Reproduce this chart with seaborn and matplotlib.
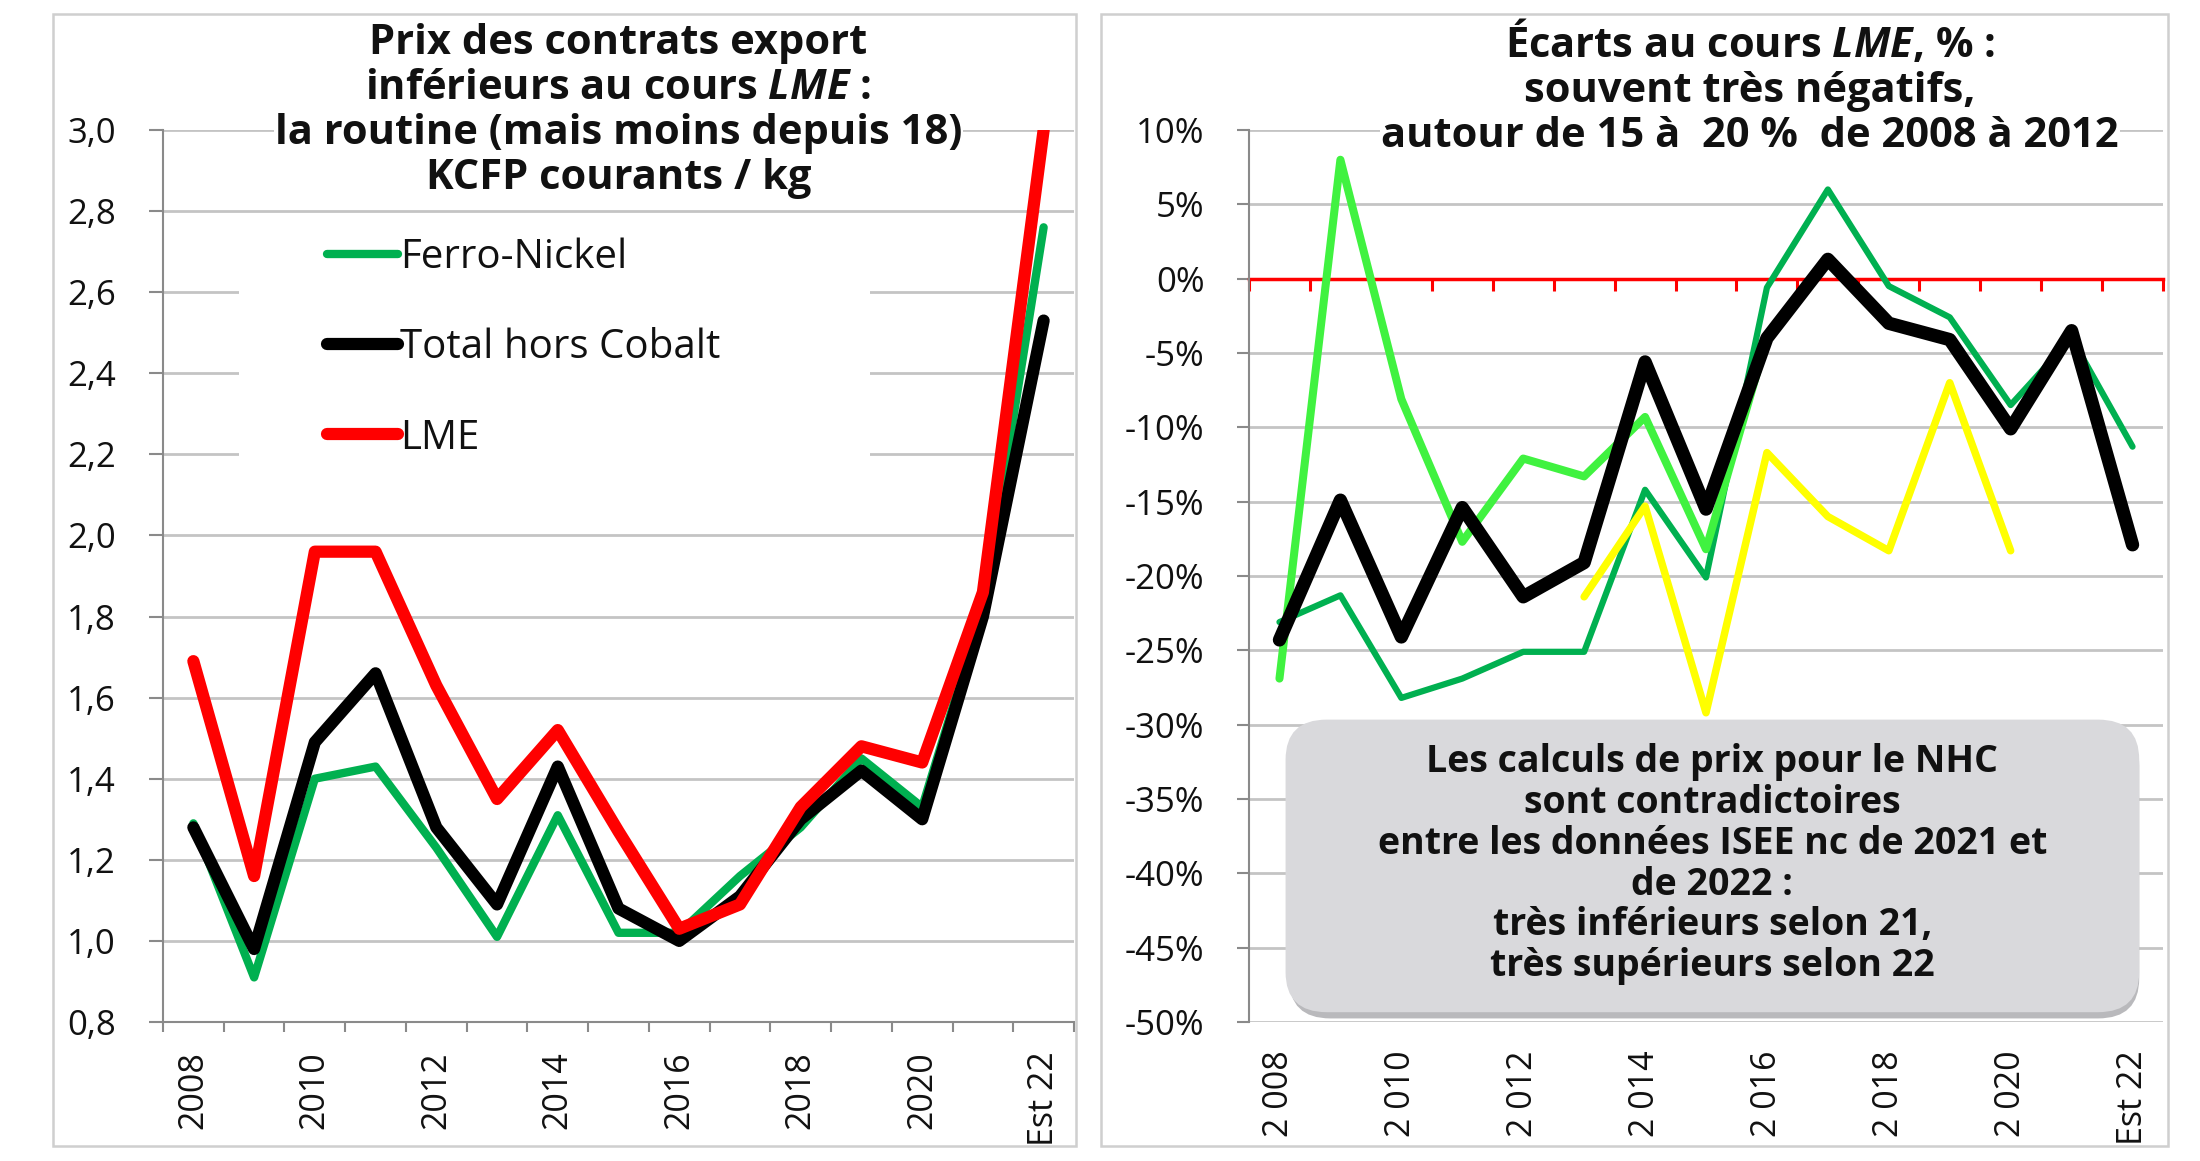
import numpy as np
import pandas as pd
import seaborn as sns
import matplotlib.pyplot as plt
from matplotlib.patches import Rectangle, FancyBboxPatch
from matplotlib.ticker import FuncFormatter

# categories (years) and tick labels
years = ['2008', '2009', '2010', '2011', '2012', '2013', '2014', '2015',
         '2016', '2017', '2018', '2019', '2020', '2021', 'Est 22']
left_tick_labels = ['2008', '2010', '2012', '2014', '2016', '2018', '2020', 'Est 22']
right_tick_labels = ['2 008', '2 010', '2 012', '2 014', '2 016', '2 018', '2 020', 'Est 22']

# left chart : prix, KCFP courants / kg
ferro_nickel = [1.29, 0.91, 1.40, 1.43, 1.23, 1.01, 1.31, 1.02, 1.02, 1.16, 1.28, 1.45, 1.33, 1.82, 2.76]
total_hors_cobalt = [1.28, 0.98, 1.49, 1.66, 1.28, 1.09, 1.43, 1.08, 1.00, 1.11, 1.30, 1.42, 1.30, 1.80, 2.53]
lme = [1.69, 1.16, 1.96, 1.96, 1.63, 1.35, 1.52, 1.27, 1.03, 1.09, 1.33, 1.48, 1.44, 1.86, 3.00]

# right chart : ecarts au cours LME, %
nan = np.nan
ecart_vert_fonce = [-23.1, -21.3, -28.2, -26.9, -25.1, -25.1, -14.2, -20.1, -0.6, 6.0, -0.5, -2.6, -8.5, -4.0, -11.3]
ecart_vert_clair = [-26.9, 8.0, -8.1, -17.7, -12.1, -13.3, -9.3, -18.2, -4.0, nan, nan, nan, nan, nan, nan]
ecart_jaune = [nan, nan, nan, nan, nan, -21.4, -15.3, -29.2, -11.7, -16.0, -18.3, -7.0, -18.3, nan, nan]
ecart_total = [-24.3, -14.9, -24.1, -15.4, -21.4, -19.1, -5.6, -15.5, -4.0, 1.3, -3.0, -4.1, -10.1, -3.5, -17.9]

sns.set_style('white')
plt.rcParams['font.family'] = ['Open Sans', 'DejaVu Sans']
plt.rcParams['mathtext.fontset'] = 'custom'
plt.rcParams['mathtext.it'] = 'Open Sans:italic:bold'
plt.rcParams['mathtext.rm'] = 'Open Sans:bold'

W, H = 2200, 1161
fig = plt.figure(figsize=(22, 11.61), dpi=100)

# panel borders
for x0, x1 in [(53, 1076), (1101, 2168)]:
    fig.add_artist(Rectangle((x0 / W, 1 - 1146 / H), (x1 - x0) / W, (1146 - 14) / H,
                             transform=fig.transFigure, fill=False,
                             edgecolor='#cfcfcf', lw=1.8))

ax1 = fig.add_axes([163 / W, 1 - 1022 / H, (1074 - 163) / W, (1022 - 130) / H])
ax2 = fig.add_axes([1249 / W, 1 - 1022 / H, (2163 - 1249) / W, (1022 - 130) / H])

tick_color = '#111111'
axis_gray = '#8a8a8a'
grid_gray = '#c4c4c4'

# ---------- left chart ----------
left_series = [('Ferro-Nickel', ferro_nickel, '#00b050', 6),
               ('Total hors Cobalt', total_hors_cobalt, 'black', 8.8),
               ('LME', lme, '#ff0000', 8.8)]
for name, vals, col, lw in left_series:
    d = pd.DataFrame({'year': years, 'value': vals})
    sns.lineplot(data=d, x='year', y='value', ax=ax1, color=col, lw=lw, label=name,
                 sort=False, solid_capstyle='round', solid_joinstyle='round')

ax1.set_xlim(-0.5, len(years) - 0.5)
ax1.set_ylim(0.8, 3.0)
ax1.set_yticks(np.arange(0.8, 3.01, 0.2))
ax1.yaxis.set_major_formatter(FuncFormatter(lambda v, p: f'{v:.1f}'.replace('.', ',')))
ax1.set_xticks(range(0, len(years), 2))
ax1.set_xticklabels(left_tick_labels)
ax1.set_xticks(np.arange(-0.5, len(years), 1), minor=True)
ax1.set_xlabel('')
ax1.set_ylabel('')
ax1.set_axisbelow(True)
ax1.grid(axis='y', color=grid_gray, lw=2)
for s in ['top', 'right']:
    ax1.spines[s].set_visible(False)
for s in ['left', 'bottom']:
    ax1.spines[s].set_color(axis_gray)
    ax1.spines[s].set_linewidth(1.5)
ax1.tick_params(axis='y', which='major', left=True, length=10, width=1.5, color=axis_gray,
                labelsize=25, labelcolor=tick_color, pad=24)
ax1.tick_params(axis='x', which='major', bottom=True, length=0, labelsize=24.5,
                labelcolor=tick_color, labelrotation=90, pad=21)
ax1.tick_params(axis='x', which='minor', bottom=True, length=7, width=1.5, color=axis_gray)

# white area behind the legend (hides the gridlines)
ax1.add_patch(Rectangle((0.083, 0.608), 0.693, 0.297, transform=ax1.transAxes,
                        facecolor='white', edgecolor='none', zorder=1))
leg = ax1.legend(loc='upper left', bbox_to_anchor=(0.18, 0.879), frameon=False,
                 fontsize=29, handlelength=1.76, handletextpad=0.05,
                 labelspacing=1.23, borderpad=0, borderaxespad=0)
for t in leg.get_texts():
    t.set_color(tick_color)

ax1.text(0.5, 1.021,
         'Prix des contrats export\ninférieurs au cours $\\mathit{LME}$ :\n'
         'la routine (mais moins depuis 18)\nKCFP courants / kg',
         transform=ax1.transAxes, ha='center', va='center', fontsize=30,
         fontweight='bold', linespacing=1.13, color=tick_color, zorder=5,
         bbox=dict(facecolor='white', edgecolor='none', pad=1))

# ---------- right chart ----------
right_series = [(ecart_vert_fonce, '#00b050', 4.5),
                (ecart_vert_clair, '#40f240', 5.8),
                (ecart_jaune, '#ffff00', 5.4),
                (ecart_total, 'black', 9.6)]
for vals, col, lw in right_series:
    d = pd.DataFrame({'year': years, 'value': vals}).dropna()
    sns.lineplot(data=d, x='year', y='value', ax=ax2, color=col, lw=lw,
                 sort=False, solid_capstyle='round', solid_joinstyle='round')

ax2.set_xlim(-0.5, len(years) - 0.5)
ax2.set_ylim(-50, 10)
ax2.set_yticks(np.arange(-50, 10.1, 5))
ax2.yaxis.set_major_formatter(FuncFormatter(lambda v, p: f'{v:.0f}%'))
ax2.set_xticks(range(0, len(years), 2))
ax2.set_xticklabels(right_tick_labels)
ax2.set_xticks(np.arange(-0.5, len(years), 1), minor=True)
ax2.set_xlabel('')
ax2.set_ylabel('')
ax2.set_axisbelow(True)
ax2.grid(axis='y', color=grid_gray, lw=2)
ax2.spines['right'].set_visible(False)
ax2.spines['bottom'].set_visible(False)
ax2.spines['left'].set_color(axis_gray)
ax2.spines['left'].set_linewidth(1.5)
# zero line in red, with its tick marks
ax2.spines['top'].set_position(('data', 0))
ax2.spines['top'].set_color('#ff0000')
ax2.spines['top'].set_linewidth(2.5)
ax2.spines['top'].set_zorder(1.5)
ax2.tick_params(axis='y', which='major', left=True, length=9, width=1.5, color=axis_gray,
                labelsize=25, labelcolor=tick_color, pad=23)
ax2.tick_params(axis='x', which='major', bottom=True, top=False, length=0, labelsize=24.5,
                labelcolor=tick_color, labelrotation=90, pad=20.5)
ax2.tick_params(axis='x', which='minor', top=True, bottom=False, direction='in',
                length=8.5, width=2.2, color='#ff0000')

ax2.text(0.548, 1.047,
         'Écarts au cours $\\mathit{LME}$, % :\nsouvent très négatifs,\n'
         'autour de 15 à  20 %  de 2008 à 2012',
         transform=ax2.transAxes, ha='center', va='center', fontsize=30,
         fontweight='bold', linespacing=1.13, color=tick_color, zorder=5,
         bbox=dict(facecolor='white', edgecolor='none', pad=1))

# grey note box
ax2.add_patch(FancyBboxPatch((0.044, 0.004), 0.93, 0.328, transform=ax2.transAxes,
                             boxstyle='round,pad=0,rounding_size=0.045',
                             facecolor='#b9b9bc', edgecolor='none', zorder=3))
ax2.add_patch(FancyBboxPatch((0.040, 0.011), 0.934, 0.328, transform=ax2.transAxes,
                             boxstyle='round,pad=0,rounding_size=0.045',
                             facecolor='#d9d9dc', edgecolor='none', zorder=3.1))
ax2.text(0.507, 0.177,
         'Les calculs de prix pour le NHC\nsont contradictoires\n'
         'entre les données ISEE nc de 2021 et\nde 2022 :\n'
         'très inférieurs selon 21,\ntrès supérieurs selon 22',
         transform=ax2.transAxes, ha='center', va='center', fontsize=27,
         fontweight='bold', linespacing=1.1, color=tick_color, zorder=4)

fig.savefig('out.png', dpi=100, facecolor='white')
